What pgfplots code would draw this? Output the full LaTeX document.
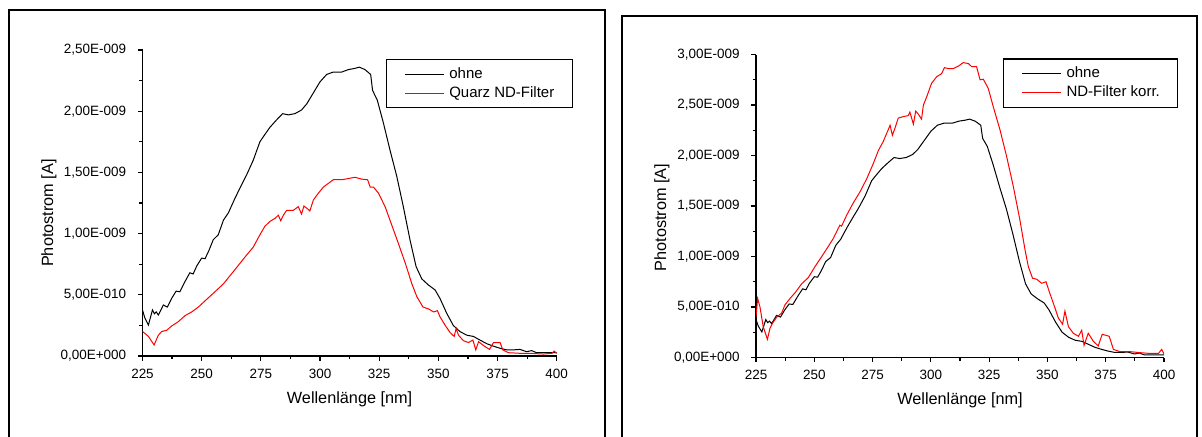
\documentclass[border=0pt]{standalone}
\usepackage{pgfplots}
\usepackage{pgfplotstable}
\pgfplotsset{compat=1.18}
\usepackage{fontspec}
\setmainfont{Liberation Sans}

\pgfplotstableread{
x y
225 0.376
226 0.31
227.5 0.253
229.2 0.376
230 0.345
230.8 0.36
231.7 0.335
233.8 0.417
235.5 0.40
237.3 0.47
239.2 0.53
240.8 0.525
243 0.61
245 0.68
246.4 0.67
247.9 0.735
250 0.80
251.4 0.795
252.8 0.85
254.9 0.95
257 0.99
259.2 1.11
261.3 1.17
264.1 1.29
266.9 1.40
269 1.48
271.8 1.60
274.6 1.75
276.7 1.81
278.9 1.87
281.7 1.93
284.2 1.98
286.6 1.97
289.4 1.98
292.2 2.01
294.4 2.06
297.2 2.15
300 2.24
302.8 2.30
305.6 2.32
309.2 2.32
312 2.34
314.8 2.35
316.6 2.36
319 2.34
321.4 2.30
322.2 2.17
324.2 2.09
326.7 1.91
329.6 1.68
332.4 1.47
335.2 1.22
338 0.95
340.6 0.73
343 0.63
345.8 0.58
348.6 0.54
350.7 0.47
353.5 0.35
356.3 0.25
359.1 0.20
362 0.17
364.8 0.16
367.6 0.13
370.5 0.10
373.3 0.08
376.1 0.063
378.9 0.05
381.7 0.05
384.5 0.054
387.3 0.035
389.4 0.044
391.5 0.027
395.7 0.027
400 0.027
}\ohne

\pgfplotstableread{
x y
225 0.20
227.5 0.16
229.9 0.09
231.7 0.17
233.1 0.20
235.2 0.21
237.3 0.245
240.1 0.28
243 0.33
245.8 0.36
248.6 0.40
251.4 0.45
254.2 0.50
257 0.55
259.2 0.59
261.3 0.64
263.4 0.69
266.3 0.76
269 0.825
271.8 0.89
274.6 0.99
276.7 1.06
278.9 1.10
281 1.125
282.4 1.15
283.4 1.105
284.5 1.15
285.9 1.19
288.7 1.19
290.1 1.21
290.8 1.22
292.2 1.16
293.2 1.225
294.6 1.205
295.7 1.185
297.2 1.275
299.3 1.33
301.4 1.38
303.5 1.41
305.6 1.44
309.2 1.44
312 1.45
314.8 1.46
317.6 1.445
320.1 1.44
321.2 1.38
322.6 1.38
324.7 1.33
327.5 1.22
330.3 1.07
333.1 0.92
336 0.76
338.8 0.59
340.9 0.485
343.5 0.40
345.8 0.385
348 0.36
349.6 0.37
350.7 0.32
352.9 0.25
355 0.19
356.7 0.16
357.5 0.225
358.5 0.17
360.6 0.125
362.7 0.11
364.6 0.13
365.8 0.05
367 0.117
369.1 0.085
371.6 0.054
373.3 0.11
376.1 0.11
377.2 0.05
379.6 0.027
384.5 0.022
388.8 0.022
394.4 0.016
398 0.022
399 0.04
400 0.02
}\quarz

\pgfplotstableread{
x y
225 0.40
225.7 0.585
226.7 0.50
228.1 0.305
229.9 0.18
231 0.29
232.1 0.34
233.9 0.40
236 0.44
237.4 0.52
239.6 0.585
241.7 0.64
244.6 0.73
247.4 0.79
250.3 0.90
253.2 1.00
256 1.10
258.2 1.18
260.3 1.28
261 1.31
261.7 1.30
263.9 1.41
266.7 1.53
269.6 1.64
272.5 1.77
275.3 1.92
277.5 2.05
279.6 2.14
281.8 2.26
282.5 2.30
283.5 2.20
284.6 2.27
286 2.37
288.2 2.385
290.3 2.395
291 2.43
292.5 2.31
293.5 2.44
294.6 2.41
296 2.36
296.8 2.50
298.2 2.58
300.3 2.715
302.5 2.78
304.6 2.81
305.8 2.87
307.5 2.86
309.6 2.86
311.8 2.885
313.9 2.92
316.1 2.91
317.5 2.88
319.6 2.88
321.1 2.75
322.5 2.755
324.6 2.665
326.8 2.48
329.7 2.25
332.5 1.99
335.4 1.69
338.2 1.36
340.4 1.065
341.8 0.90
343.6 0.785
345.4 0.775
347.5 0.735
349.4 0.75
350.8 0.65
352.5 0.54
354.7 0.39
356.5 0.33
357.5 0.46
359 0.305
361.1 0.24
363.3 0.21
364.7 0.27
365.7 0.12
367.5 0.24
369.7 0.16
371.8 0.115
373.5 0.23
376.5 0.21
378.3 0.08
381.1 0.058
385.4 0.058
389.7 0.048
394 0.04
397.6 0.04
399 0.08
400 0.035
}\korr

\pgfplotsset{
  myax/.style={
    scale only axis,
    axis lines*=left,
    tick align=outside,
    tick pos=left,
    xmin=225, xmax=400, ymin=0,
    xtick={225,250,...,400},
    minor x tick num=1, minor y tick num=1,
    major tick length=3.5pt, minor tick length=2.3pt,
    axis line style={line width=0.9pt},
    every tick/.style={black, line width=0.9pt},
    tick label style={font=\fontsize{10.1}{11}\selectfont},
    /pgf/number format/assume math mode=true,
    xticklabel style={anchor=north, inner sep=0pt, yshift=-6pt},
    yticklabel style={anchor=east, inner sep=0pt, xshift=-8.6pt},
    xlabel={Wellenlänge [nm]},
    ylabel={Photostrom [A]},
    label style={font=\fontsize{12.2}{14}\selectfont, inner sep=0pt},
    xlabel style={at={(axis description cs:0.5,-0.142)}, anchor=center},
    legend cell align=left,
    legend image code/.code={\draw[#1, line width=0.75pt] (0pt,0pt) -- (29pt,0pt);},
    legend style={draw=black, line width=0.9pt, inner xsep=13.5pt, inner ysep=5.4pt,
      font=\fontsize{11.25}{13}\selectfont, row sep=3.25pt,
      nodes={inner sep=0pt, text height=8.5pt, text depth=2.5pt},
      /tikz/every odd column/.append style={column sep=3.75pt}},
  }
}

\begin{document}
\begin{tikzpicture}
\path[use as bounding box] (0,0) rectangle (901.5pt,327pt);
\draw[line width=1.5pt] (6.75pt,-2pt) -- (6.75pt,319.5pt) -- (453.75pt,319.5pt) -- (453.75pt,-2pt);
\draw[line width=1.5pt] (466.5pt,-2pt) -- (466.5pt,315pt) -- (897.75pt,315pt) -- (897.75pt,-2pt);

\begin{axis}[myax, at={(106.875pt,60pt)}, anchor=south west,
  width=310.65pt, height=229.5pt, ymax=2.5,
  ytick={0,0.5,1,1.5,2,2.5},
  yticklabels={{0,00E+000},{5,00E-010},{1,00E-009},{1,50E-009},{2,00E-009},{2,50E-009}},
  ylabel style={at={(axis description cs:-0.2257,0.467)}, anchor=center},
  legend style={at={(0.588,0.971)}, anchor=north west}]
\addplot[black, line width=0.75pt] table {\ohne};
\addlegendentry{ohne}
\addplot[red, line width=0.75pt] table {\quarz};
\addlegendentry{Quarz ND-Filter}
\end{axis}

\begin{axis}[myax, at={(567pt,58.875pt)}, anchor=south west,
  width=306pt, height=227.25pt, ymax=3,
  ytick={0,0.5,1,1.5,2,2.5,3},
  yticklabels={{0,00E+000},{5,00E-010},{1,00E-009},{1,50E-009},{2,00E-009},{2,50E-009},{3,00E-009}},
  ylabel style={at={(axis description cs:-0.2304,0.462)}, anchor=center},
  legend style={at={(0.606,0.987)}, anchor=north west}]
\addplot[black, line width=0.75pt] table {\ohne};
\addlegendentry{ohne}
\addplot[red, line width=0.75pt] table {\korr};
\addlegendentry{ND-Filter korr.}
\end{axis}
\end{tikzpicture}
\end{document}
